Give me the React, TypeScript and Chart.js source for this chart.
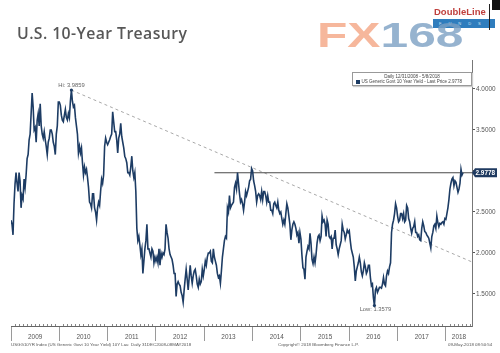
import React, { useEffect, useRef } from "react";
import { Chart, registerables } from "chart.js";

Chart.register(...registerables);

// ---- data: roughly weekly readings of the 10Y yield (%), 4 per month ----
const START_YEAR = 2009;
const POINTS_PER_YEAR = 48;
const y2009 = [
  2.40, 2.35, 2.22, 2.60, 2.84, 2.98, 2.85, 2.75, 2.98, 2.88, 2.55, 2.70,
  2.66, 2.90, 2.80, 2.95, 3.15, 3.20, 3.38, 3.45, 3.70, 3.95, 3.78, 3.50,
  3.53, 3.35, 3.62, 3.70, 3.55, 3.82, 3.55, 3.45, 3.40, 3.48, 3.38, 3.30,
  3.20, 3.35, 3.40, 3.50, 3.50, 3.45, 3.35, 3.30, 3.20, 3.45, 3.55, 3.84,
];
const y2010 = [
  3.84, 3.80, 3.68, 3.62, 3.60, 3.68, 3.75, 3.65, 3.62, 3.70, 3.65, 3.85,
  3.9859, 3.85, 3.78, 3.80, 3.65, 3.55, 3.45, 3.22, 3.30, 3.22, 3.28, 3.10,
  2.95, 3.05, 2.98, 3.02, 2.92, 2.80, 2.62, 2.60, 2.55, 2.72, 2.72, 2.55,
  2.50, 2.40, 2.55, 2.62, 2.58, 2.75, 2.90, 2.85, 2.95, 3.30, 3.40, 3.35,
];
const y2011 = [
  3.32, 3.35, 3.38, 3.42, 3.45, 3.72, 3.60, 3.48, 3.48, 3.38, 3.22, 3.40,
  3.45, 3.58, 3.42, 3.35, 3.28, 3.18, 3.15, 3.10, 2.98, 2.98, 2.95, 3.05,
  3.18, 3.00, 2.92, 2.98, 2.75, 2.30, 2.15, 2.20, 2.10, 1.98, 2.05, 1.75,
  1.90, 2.05, 2.15, 2.35, 2.05, 2.05, 2.00, 1.95, 2.05, 2.02, 1.88, 1.95,
];
const y2012 = [
  1.90, 1.95, 1.88, 2.05, 1.85, 2.00, 1.95, 2.00, 1.98, 2.05, 2.35, 2.25,
  2.18, 2.05, 1.98, 1.95, 1.92, 1.85, 1.75, 1.75, 1.47, 1.62, 1.65, 1.62,
  1.60, 1.52, 1.48, 1.40, 1.55, 1.68, 1.80, 1.68, 1.55, 1.70, 1.85, 1.72,
  1.63, 1.72, 1.78, 1.80, 1.72, 1.62, 1.58, 1.68, 1.62, 1.65, 1.80, 1.72,
];
const y2013 = [
  1.80, 1.90, 1.85, 1.95, 2.00, 2.00, 2.02, 1.90, 1.88, 2.05, 1.95, 1.90,
  1.85, 1.75, 1.70, 1.72, 1.63, 1.78, 1.95, 2.05, 2.15, 2.20, 2.18, 2.55,
  2.50, 2.70, 2.55, 2.58, 2.60, 2.62, 2.80, 2.85, 2.78, 2.98, 2.85, 2.72,
  2.62, 2.65, 2.60, 2.52, 2.62, 2.75, 2.70, 2.75, 2.80, 2.88, 2.90, 3.03,
];
const y2014 = [
  3.00, 2.88, 2.82, 2.75, 2.62, 2.70, 2.72, 2.70, 2.65, 2.75, 2.65, 2.75,
  2.75, 2.70, 2.62, 2.70, 2.62, 2.62, 2.52, 2.52, 2.48, 2.60, 2.62, 2.58,
  2.55, 2.62, 2.52, 2.48, 2.50, 2.42, 2.35, 2.40, 2.35, 2.48, 2.60, 2.55,
  2.45, 2.35, 2.16, 2.28, 2.35, 2.38, 2.35, 2.30, 2.22, 2.25, 2.12, 2.25,
];
const y2015 = [
  2.17, 1.97, 1.82, 1.80, 1.68, 1.95, 2.02, 2.08, 2.05, 2.24, 2.12, 1.92,
  1.87, 1.95, 1.88, 1.98, 2.12, 2.20, 2.22, 2.15, 2.20, 2.45, 2.38, 2.40,
  2.35, 2.20, 2.40, 2.35, 2.20, 2.18, 2.20, 2.05, 2.18, 2.18, 2.28, 2.10,
  2.05, 1.98, 2.05, 2.10, 2.15, 2.35, 2.28, 2.25, 2.17, 2.22, 2.28, 2.25,
];
const y2016 = [
  2.27, 2.15, 2.05, 2.00, 1.95, 1.83, 1.66, 1.78, 1.83, 1.88, 1.95, 1.88,
  1.77, 1.72, 1.78, 1.88, 1.83, 1.75, 1.78, 1.85, 1.85, 1.70, 1.60, 1.62,
  1.45, 1.3579, 1.55, 1.58, 1.52, 1.55, 1.58, 1.58, 1.57, 1.62, 1.70, 1.62,
  1.60, 1.72, 1.78, 1.75, 1.83, 1.88, 2.25, 2.35, 2.40, 2.48, 2.60, 2.55,
];
const y2017 = [
  2.45, 2.38, 2.40, 2.48, 2.48, 2.42, 2.48, 2.38, 2.40, 2.58, 2.55, 2.42,
  2.38, 2.30, 2.24, 2.30, 2.32, 2.38, 2.25, 2.25, 2.20, 2.22, 2.16, 2.15,
  2.30, 2.38, 2.33, 2.26, 2.25, 2.22, 2.20, 2.18, 2.12, 2.06, 2.20, 2.25,
  2.33, 2.35, 2.30, 2.45, 2.37, 2.32, 2.36, 2.35, 2.37, 2.38, 2.35, 2.42,
];
const y2018 = [
  2.41, 2.48, 2.55, 2.65, 2.78, 2.85, 2.90, 2.92, 2.82, 2.88, 2.86, 2.80,
  2.74, 2.78, 2.85, 3.02, 2.95, 2.9778,
];

const YIELDS = [...y2009, ...y2010, ...y2011, ...y2012, ...y2013, ...y2014, ...y2015, ...y2016, ...y2017, ...y2018];
const TIMES = YIELDS.map((_, i) => START_YEAR + i / POINTS_PER_YEAR);

const HI_VALUE = 3.9859;
const LOW_VALUE = 1.3579;
const LAST_PRICE = 2.9778;
const RESISTANCE_START = 2013.21;
const TREND_END_VALUE = 1.89;

const X_MIN = 2009;
const X_MAX = 2018.54;
const Y_MIN = 1.109;
const Y_MAX = 4.353;
const Y_TICKS = [1.5, 2.0, 2.5, 3.0, 3.5, 4.0];
const YEARS = [2009, 2010, 2011, 2012, 2013, 2014, 2015, 2016, 2017, 2018];

const NAVY = "#1d3c64";
const TICK_FONT = { family: "'Liberation Sans', Arial, sans-serif", size: 6.4 };

function yearLabelPos(y: number) {
  const a = Math.max(y, X_MIN);
  const b = Math.min(y + 1, X_MAX);
  return (a + b) / 2;
}

const annotPlugin = {
  id: "annot",
  afterDatasetsDraw(chart: any) {
    const { ctx, scales } = chart;
    const x = scales.x;
    const y = scales.y;
    ctx.save();
    // monthly minor ticks on the time axis
    ctx.strokeStyle = "#888";
    ctx.lineWidth = 1;
    for (let yr = X_MIN; yr < X_MAX; yr++) {
      for (let m = 1; m < 12; m++) {
        const t = yr + m / 12;
        if (t > X_MAX) break;
        const px = Math.round(x.getPixelForValue(t)) + 0.5;
        ctx.beginPath();
        ctx.moveTo(px, x.top - 2);
        ctx.lineTo(px, x.top);
        ctx.stroke();
      }
    }
    // Hi / Low labels
    const hiIdx = YIELDS.indexOf(HI_VALUE);
    const loIdx = YIELDS.indexOf(LOW_VALUE);
    ctx.font = "5.8px 'Liberation Sans', Arial, sans-serif";
    ctx.fillStyle = "#666";
    ctx.textAlign = "center";
    const hx = x.getPixelForValue(TIMES[hiIdx]);
    const hy = y.getPixelForValue(HI_VALUE);
    ctx.textBaseline = "bottom";
    ctx.fillText("Hi: " + HI_VALUE.toFixed(4), hx, hy - 1.5);
    const lx = x.getPixelForValue(TIMES[loIdx]);
    const ly = y.getPixelForValue(LOW_VALUE);
    ctx.textBaseline = "top";
    ctx.fillText("Low: " + LOW_VALUE.toFixed(4), lx + 1, ly + 0.5);
    ctx.fillStyle = NAVY;
    ctx.beginPath();
    ctx.arc(hx, hy, 1.6, 0, Math.PI * 2);
    ctx.fill();
    ctx.beginPath();
    ctx.arc(lx, ly, 1.6, 0, Math.PI * 2);
    ctx.fill();
    // last price tag
    const py = y.getPixelForValue(LAST_PRICE);
    const left = y.left;
    ctx.fillStyle = "#1f3a60";
    ctx.beginPath();
    ctx.moveTo(left, py);
    ctx.lineTo(left + 3, py - 4.5);
    ctx.lineTo(left + 25, py - 4.5);
    ctx.lineTo(left + 25, py + 4.5);
    ctx.lineTo(left + 3, py + 4.5);
    ctx.closePath();
    ctx.fill();
    ctx.fillStyle = "#fff";
    ctx.font = "bold 6.4px 'Liberation Sans', Arial, sans-serif";
    ctx.textAlign = "left";
    ctx.textBaseline = "middle";
    ctx.fillText(LAST_PRICE.toFixed(4), left + 3.5, py + 0.5);
    ctx.restore();
  },
};

export default function App() {
  const ref = useRef<HTMLCanvasElement>(null);
  useEffect(() => {
    if (!ref.current) return;
    const hiIdx = YIELDS.indexOf(HI_VALUE);
    const chart = new Chart(ref.current, {
      type: "line",
      data: {
        datasets: [
          {
            data: TIMES.map((t, i) => ({ x: t, y: YIELDS[i] })),
            borderColor: NAVY,
            borderWidth: 1.6,
            pointRadius: 0,
            tension: 0,
          },
          {
            data: [
              { x: RESISTANCE_START, y: LAST_PRICE },
              { x: X_MAX, y: LAST_PRICE },
            ],
            borderColor: "#4a4a4a",
            borderWidth: 1.2,
            pointRadius: 0,
          },
          {
            data: [
              { x: TIMES[hiIdx], y: HI_VALUE },
              { x: X_MAX, y: TREND_END_VALUE },
            ],
            borderColor: "#a8a8a8",
            borderWidth: 1,
            borderDash: [3, 3],
            pointRadius: 0,
          },
        ],
      },
      options: {
        responsive: false,
        animation: false,
        devicePixelRatio: 1,
        layout: { padding: { top: 60, left: 11, right: 0, bottom: 0 } },
        plugins: { legend: { display: false }, tooltip: { enabled: false } },
        scales: {
          x: {
            type: "linear",
            min: X_MIN,
            max: X_MAX,
            afterBuildTicks: (s: any) => {
              const vals: number[] = [];
              YEARS.forEach((yr) => {
                vals.push(yr);
                vals.push(yearLabelPos(yr));
              });
              vals.sort((a, b) => a - b);
              s.ticks = vals.map((v) => ({ value: v }));
            },
            afterFit: (s: any) => {
              s.height = 27;
            },
            grid: {
              drawOnChartArea: false,
              tickLength: 15,
              tickColor: (c: any) =>
                c.tick && Number.isInteger(c.tick.value) ? "#9a9a9a" : "rgba(0,0,0,0)",
            },
            border: { color: "#666", width: 1 },
            ticks: {
              autoSkip: false,
              maxRotation: 0,
              padding: -8,
              color: "#555",
              font: TICK_FONT,
              callback: (v: any) => (Number.isInteger(v) ? "" : String(Math.floor(v))),
            },
          },
          y: {
            type: "linear",
            position: "right",
            min: Y_MIN,
            max: Y_MAX,
            afterBuildTicks: (s: any) => {
              s.ticks = Y_TICKS.map((v) => ({ value: v }));
            },
            afterFit: (s: any) => {
              s.width = 28;
            },
            grid: { drawOnChartArea: false, tickLength: 3, tickColor: "#555" },
            border: { color: "#777", width: 1 },
            ticks: {
              padding: 1,
              color: "#555",
              font: TICK_FONT,
              callback: (v: any) => (Number(v) === 3 ? "" : Number(v).toFixed(4)),
            },
          },
        },
      },
      plugins: [annotPlugin],
    } as any);
    return () => chart.destroy();
  }, []);

  const tiny: React.CSSProperties = {
    position: "absolute",
    fontFamily: "'Liberation Sans', Arial, sans-serif",
    fontSize: "4.4px",
    color: "#555",
    whiteSpace: "nowrap",
    lineHeight: "5px",
  };

  return (
    <div style={{ position: "fixed", left: 0, top: 0, width: 500, height: 353, background: "#fff", overflow: "hidden" }}>
      <canvas ref={ref} width={500} height={353} style={{ display: "block", width: 500, height: 353 }} />
      <div
        style={{
          position: "absolute",
          left: 17,
          top: 25.5,
          fontFamily: "'Open Sans', sans-serif",
          fontWeight: 600,
          fontSize: "15.8px",
          letterSpacing: "0.4px",
          lineHeight: "15px",
          color: "#575757",
          whiteSpace: "nowrap",
        }}
      >
        U.S. 10-Year Treasury
      </div>
      {/* DoubleLine logo */}
      <div style={{ position: "absolute", left: 434, top: 6, fontFamily: "'Liberation Sans', Arial, sans-serif", fontWeight: 700, fontSize: "9.5px", color: "#c0403d", lineHeight: "11px" }}>
        DoubleLine
      </div>
      <div style={{ position: "absolute", left: 433, top: 19, width: 56, height: 9, background: "#2f7dbd", color: "#cfe3f3", fontSize: "4px", fontFamily: "'Liberation Sans', Arial, sans-serif", letterSpacing: "7px", lineHeight: "9px", paddingLeft: 6 }}>
        FUNDS
      </div>
      <div style={{ position: "absolute", left: 489, top: 4, width: 1, height: 26, background: "#222" }} />
      <div style={{ position: "absolute", left: 492, top: 0, width: 8, height: 10, background: "#111" }} />
      {/* FX168 watermark */}
      <div
        style={{
          position: "absolute",
          left: 317,
          top: 15,
          fontFamily: "'Liberation Sans', Arial, sans-serif",
          fontWeight: 700,
          fontSize: "35px",
          lineHeight: "40px",
          transform: "scaleX(1.42)",
          transformOrigin: "left top",
          whiteSpace: "nowrap",
          opacity: 0.8,
        }}
      >
        <span style={{ color: "#f4a684" }}>FX</span>
        <span style={{ color: "#7ca0c4" }}>168</span>
      </div>
      {/* legend box */}
      <div
        style={{
          position: "absolute",
          left: 352,
          top: 72,
          width: 118,
          height: 12,
          border: "1px solid #999",
          background: "#fff",
          boxShadow: "1px 1px 1px #ccc",
          fontFamily: "'Liberation Sans', Arial, sans-serif",
          fontSize: "4.5px",
          color: "#444",
          lineHeight: "5.5px",
        }}
      >
        <div style={{ textAlign: "center", paddingTop: 0.5 }}>Daily 12/31/2008 - 5/8/2018</div>
        <div style={{ whiteSpace: "nowrap", paddingLeft: 3 }}>
          <span style={{ display: "inline-block", width: 4, height: 4, background: NAVY, marginRight: 1.5, verticalAlign: "middle" }} />
          US Generic Govt 10 Year Yield - Last Price {LAST_PRICE.toFixed(4)}
        </div>
      </div>
      {/* footer */}
      <div style={{ ...tiny, left: 11, top: 342 }}>
        USGG10YR Index (US Generic Govt 10 Year Yield) 10Y Lau&nbsp;&nbsp;Daily 31DEC2008-08MAY2018
      </div>
      <div style={{ ...tiny, left: 278, top: 341.5 }}>Copyright© 2018 Bloomberg Finance L.P.</div>
      <div style={{ ...tiny, left: 448, top: 341.5 }}>09-May-2018 08:50:54</div>
    </div>
  );
}
